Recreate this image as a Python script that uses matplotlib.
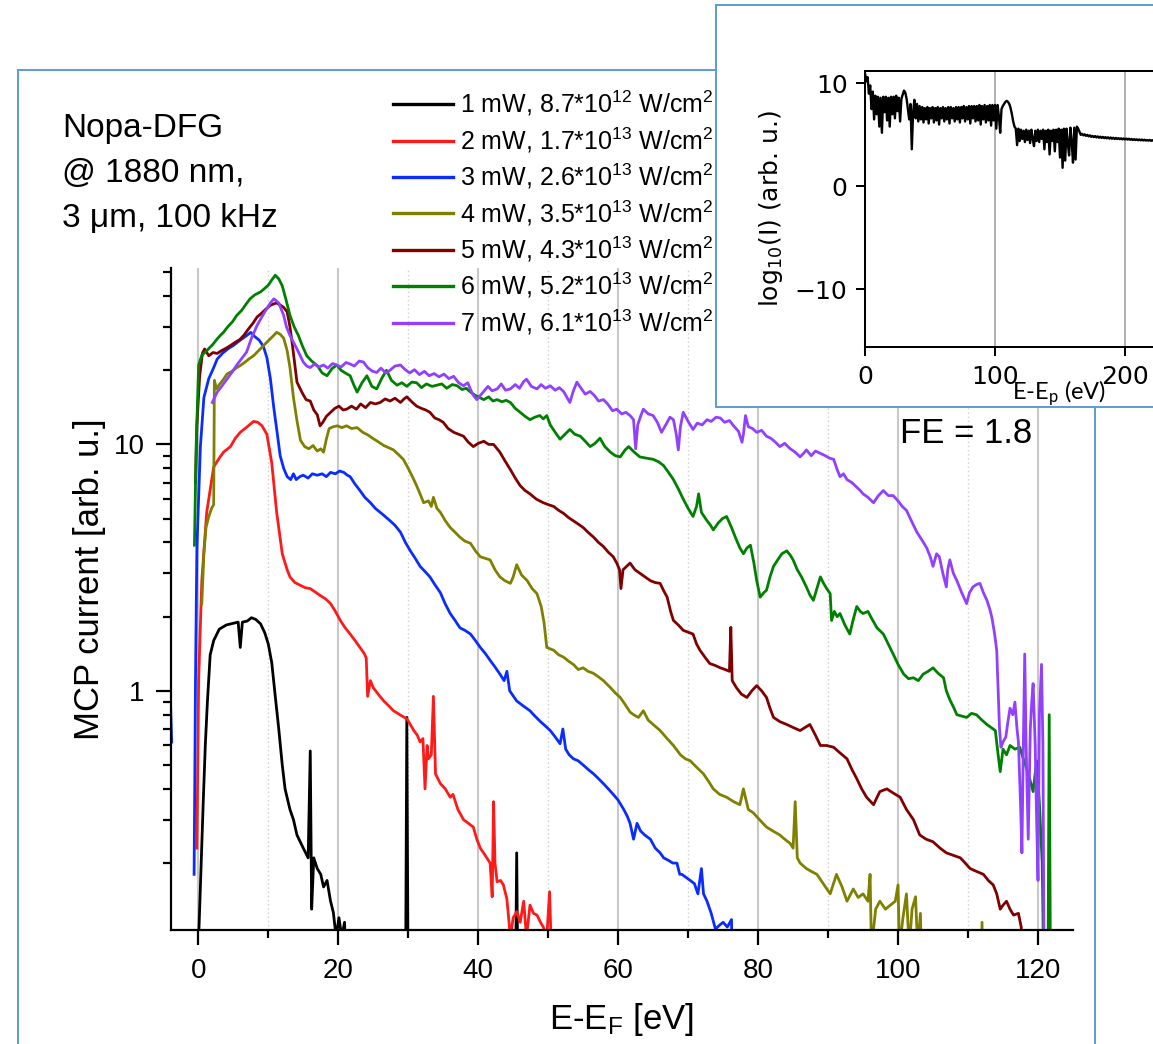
import numpy as np
import matplotlib
matplotlib.use('Agg')
import matplotlib.pyplot as plt
from matplotlib.patches import Rectangle
from matplotlib.ticker import FixedLocator, FixedFormatter, LogLocator, NullFormatter
from matplotlib.lines import Line2D

plt.rcParams['font.family'] = ['Liberation Sans', 'DejaVu Sans']
plt.rcParams['mathtext.default'] = 'regular'

NaN = float('nan')  # marks a gap in a measured trace

# ---------------- data (E - E_F [eV], MCP current [arb. u.]) ----------------
black = [(-0.3, 0.05), (0.0, 0.09), (0.3, 0.16), (0.7, 0.35), (1.0, 0.6), (1.3, 0.9), (1.7, 1.4),
         (2.2, 1.6), (3.0, 1.78), (4.0, 1.85), (5.0, 1.88), (5.7, 1.9), (6.0, 1.5), (6.3, 1.9),
         (7.0, 1.92), (7.6, 1.98), (8.2, 1.95), (8.9, 1.87), (9.5, 1.72), (10.0, 1.55), (10.5, 1.3),
         (11.0, 0.95), (11.5, 0.7), (12.0, 0.5), (12.4, 0.4), (13.1, 0.33), (13.6, 0.3), (14.1, 0.26),
         (15.0, 0.23), (15.7, 0.21), (16.0, 0.57), (16.2, 0.13), (16.5, 0.21), (17.0, 0.19),
         (17.5, 0.18), (17.9, 0.16), (18.4, 0.17), (18.9, 0.14), (19.3, 0.126), (19.7, 0.1),
         (20.1, 0.12), (20.5, 0.1), (20.9, 0.115), (21.3, 0.05), (29.6, 0.05), (29.8, 0.78),
         (30.0, 0.05), (45.3, 0.05), (45.5, 0.22), (45.7, 0.05), (46.2, 0.05)]

red = [(-0.2, 0.23), (0.05, 1.1), (0.5, 2.8), (1.2, 5.3), (2.2, 8.1), (3.0, 8.8),
       (3.6, 9.3), (4.6, 9.8), (5.3, 10.6), (6.0, 11.2), (7.0, 11.8), (7.9, 12.4), (8.5, 12.3),
       (9.1, 11.9), (9.8, 11.0), (10.5, 8.4), (11.2, 5.3), (12.0, 3.6), (12.7, 3.1), (13.1, 2.9),
       (13.8, 2.75), (14.6, 2.68), (15.3, 2.62), (16.0, 2.6), (16.7, 2.52), (17.4, 2.44),
       (18.2, 2.36), (18.9, 2.26), (19.6, 2.1), (20.3, 1.93), (21.0, 1.8), (21.7, 1.7), (22.4, 1.6),
       (23.1, 1.5), (23.7, 1.42), (24.0, 1.36), (24.2, 0.95), (24.6, 1.1), (25.0, 1.03),
       (25.7, 0.97), (26.5, 0.91), (27.2, 0.87), (27.9, 0.83), (28.8, 0.8), (29.8, 0.77),
       (30.3, 0.73), (30.8, 0.69), (31.3, 0.66), (31.7, 0.62), (32.1, 0.64), (32.4, 0.40),
       (32.7, 0.6), (32.9, 0.53), (33.3, 0.55), (33.6, 0.95), (33.9, 0.46), (34.6, 0.42),
       (35.3, 0.40), (36.0, 0.37), (36.4, 0.38), (37.1, 0.33), (37.9, 0.30), (38.6, 0.29),
       (39.3, 0.28), (39.8, 0.25), (40.3, 0.23), (41.0, 0.215), (41.7, 0.2), (42.0, 0.146),
       (42.2, 0.355), (42.4, 0.2), (42.7, 0.168), (43.2, 0.17), (43.6, 0.163), (44.1, 0.143),
       (44.6, 0.1), (45.0, 0.12), (45.5, 0.127), (46.0, 0.115), (46.5, 0.14), (46.9, 0.1),
       (47.4, 0.135), (47.9, 0.125), (48.4, 0.123), (48.9, 0.115), (49.3, 0.11), (49.8, 0.1),
       (50.2, 0.153), (50.4, 0.1), (50.6, 0.05)]

blue = [(-4.0, 0.95), (-3.8, 0.62), (-3.7, NaN), (-0.6, 0.18), (-0.4, 1.1),
        (-0.2, 3.8), (0.3, 9.8), (0.8, 15.5), (1.5, 18.5), (2.2, 20.5), (2.7, 22.2), (3.5, 23.5),
        (4.3, 24.5), (5.0, 25.2), (6.0, 26.5), (6.8, 27.5), (7.5, 28.5), (8.0, 27.5), (8.7, 26.5),
        (9.3, 25.0), (9.8, 22.5), (10.3, 18.5), (10.8, 14.0), (11.3, 11.0), (11.7, 9.0),
        (12.2, 8.0), (12.7, 7.4), (13.2, 7.2), (13.6, 7.6), (14.0, 7.2), (14.5, 7.4), (15.0, 7.5),
        (15.7, 7.3), (16.3, 7.6), (17.0, 7.5), (17.7, 7.6), (18.3, 7.4), (18.9, 7.7), (19.6, 7.6),
        (20.2, 7.8), (20.8, 7.7), (21.3, 7.5), (21.7, 7.4), (22.4, 6.9), (23.1, 6.5), (23.8, 6.1),
        (24.6, 5.8), (25.3, 5.5), (26.0, 5.3), (26.7, 5.1), (27.4, 4.9), (28.1, 4.7), (28.9, 4.4),
        (29.6, 4.0), (30.3, 3.7), (31.0, 3.45), (31.7, 3.2), (32.4, 3.05), (33.1, 2.9), (33.8, 2.7),
        (34.6, 2.5), (35.3, 2.25), (36.0, 2.06), (36.7, 1.93), (37.4, 1.8), (38.1, 1.76),
        (38.9, 1.7), (39.6, 1.6), (40.3, 1.5), (41.0, 1.42), (41.7, 1.33), (42.4, 1.25),
        (43.1, 1.17), (43.7, 1.1), (44.1, 1.2), (44.5, 1.0), (45.5, 0.91), (46.4, 0.87),
        (47.4, 0.83), (48.1, 0.79), (48.9, 0.75), (49.6, 0.72), (50.3, 0.69), (51.0, 0.65),
        (51.7, 0.61), (52.1, 0.70), (52.5, 0.58), (53.0, 0.55), (53.6, 0.53), (54.3, 0.52),
        (55.0, 0.5), (55.7, 0.48), (56.5, 0.46), (57.2, 0.44), (57.9, 0.42), (58.6, 0.40),
        (59.3, 0.38), (60.0, 0.36), (60.8, 0.33), (61.3, 0.31), (61.7, 0.29), (62.2, 0.25),
        (62.7, 0.29), (63.2, 0.27), (63.8, 0.26), (64.6, 0.25), (65.3, 0.23), (66.0, 0.22),
        (66.5, 0.21), (67.2, 0.205), (67.8, 0.2), (68.4, 0.2), (68.8, 0.18), (69.1, 0.18),
        (69.7, 0.175), (70.3, 0.17), (70.9, 0.165), (71.4, 0.15), (71.9, 0.19), (72.2, 0.15),
        (72.7, 0.14), (73.3, 0.125), (73.9, 0.108), (74.5, 0.112), (75.0, 0.115), (75.6, 0.11),
        (76.2, 0.118), (76.4, 0.05)]

olive = [(0.5, 2.25), (0.8, 3.6), (1.1, 4.6), (1.5, 5.1), (1.9, 5.5),
         (2.2, 5.7), (2.3, 18.2), (2.6, 16.8), (3.0, 17.5), (3.5, 18.2), (4.1, 19.3), (4.8, 19.8),
         (5.4, 20.4), (6.0, 20.9), (6.7, 21.6), (7.3, 22.3), (7.9, 22.9), (8.6, 24.0), (9.2, 25.0),
         (9.8, 26.0), (10.5, 27.2), (11.2, 28.5), (11.7, 28.0), (12.2, 27.0), (12.7, 24.0),
         (13.1, 20.5), (13.6, 15.5), (14.1, 12.5), (14.6, 10.4), (15.2, 9.8), (15.8, 9.6),
         (16.4, 9.9), (17.0, 9.4), (17.5, 9.6), (17.9, 9.3), (18.3, 10.5), (18.7, 11.6),
         (19.3, 11.8), (19.9, 11.9), (20.5, 11.7), (21.2, 11.9), (21.9, 11.6), (22.7, 11.7),
         (23.5, 11.2), (24.3, 10.9), (24.9, 10.6), (25.6, 10.3), (26.5, 9.9), (27.2, 9.7),
         (27.9, 9.5), (28.6, 9.1), (29.3, 8.7), (30.0, 8.0), (30.8, 7.2), (31.5, 6.5), (32.2, 5.8),
         (32.9, 5.9), (33.3, 5.6), (33.6, 6.1), (34.1, 5.5), (34.6, 5.3), (35.3, 4.9), (36.0, 4.6),
         (36.7, 4.4), (37.4, 4.2), (38.1, 4.05), (38.9, 3.97), (39.6, 3.7), (40.3, 3.5),
         (41.0, 3.45), (41.7, 3.4), (42.4, 3.1), (43.1, 2.9), (43.8, 2.8), (44.6, 2.73),
         (45.0, 2.9), (45.5, 3.25), (46.2, 2.95), (47.0, 2.8), (47.7, 2.6), (48.4, 2.48),
         (49.0, 2.2), (49.4, 1.9), (49.8, 1.5), (50.3, 1.48), (50.8, 1.46), (51.5, 1.4),
         (52.2, 1.37), (52.9, 1.32), (53.6, 1.28), (54.3, 1.22), (55.0, 1.24), (55.7, 1.2),
         (56.4, 1.18), (57.0, 1.15), (57.9, 1.1), (58.9, 1.03), (59.6, 0.98), (60.3, 0.94),
         (61.0, 0.88), (61.7, 0.82), (62.2, 0.8), (62.9, 0.78), (63.6, 0.83), (64.3, 0.76),
         (65.0, 0.73), (66.0, 0.69), (67.0, 0.64), (67.9, 0.6), (68.9, 0.55), (69.6, 0.53),
         (70.3, 0.52), (71.2, 0.49), (72.2, 0.46), (72.9, 0.43), (73.6, 0.40), (74.5, 0.38),
         (75.5, 0.37), (76.5, 0.355), (77.4, 0.345), (77.9, 0.40), (78.6, 0.33), (79.3, 0.32),
         (80.2, 0.3), (81.2, 0.28), (82.1, 0.27), (83.1, 0.26), (83.8, 0.25), (84.6, 0.24),
         (85.0, 0.23), (85.3, 0.355), (85.6, 0.21), (86.0, 0.2), (86.9, 0.19), (87.6, 0.185),
         (88.4, 0.18), (89.3, 0.165), (90.3, 0.15), (91.2, 0.18), (92.0, 0.16), (92.7, 0.14),
         (93.6, 0.157), (94.3, 0.145), (95.0, 0.15), (95.7, 0.14), (96.0, 0.18), (96.2, 0.09),
         (96.8, 0.13), (97.4, 0.14), (98.2, 0.13), (98.9, 0.135), (99.6, 0.14), (100.0, 0.163),
         (100.2, 0.09), (100.7, 0.12), (101.2, 0.15), (101.6, 0.09), (102.0, 0.13), (102.5, 0.146),
         (102.8, 0.09), (103.2, 0.125), (103.5, 0.05), (111.8, 0.05), (112.0, 0.115), (112.2, 0.05)]

darkred = [(-0.4, 7.0), (-0.2, 12.0), (0.2, 19.0), (0.6, 23.5), (0.9, 24.4), (1.5, 22.9), (2.1, 23.6),
           (2.7, 23.4), (3.3, 24.0), (4.0, 24.6), (4.6, 25.2), (5.3, 26.0), (5.9, 26.6), (6.5, 27.7),
           (7.2, 29.5), (7.8, 31.0), (8.4, 32.9), (9.0, 34.0), (9.7, 35.5), (10.3, 36.7), (10.8, 37.2),
           (11.2, 37.5), (11.7, 36.8), (12.2, 36.0), (12.7, 34.5), (13.1, 30.0), (13.4, 26.0),
           (13.8, 21.0), (14.1, 17.9), (14.8, 16.3), (15.4, 15.2), (16.0, 15.0), (16.5, 13.8),
           (17.0, 13.2), (17.4, 11.9), (17.8, 12.3), (18.3, 13.0), (18.9, 13.5), (19.5, 14.0),
           (20.1, 14.3), (20.7, 13.8), (21.2, 13.9), (21.9, 14.3), (22.6, 13.9), (23.2, 14.6),
           (23.9, 14.1), (24.6, 14.8), (25.3, 14.6), (26.0, 14.8), (26.7, 15.3), (27.4, 15.0),
           (28.1, 15.4), (28.9, 14.8), (29.4, 15.3), (29.8, 15.6), (30.5, 14.9), (31.2, 14.3),
           (31.9, 14.0), (32.5, 13.8), (33.1, 13.5), (33.8, 12.8), (34.4, 12.6), (35.0, 12.3),
           (35.7, 11.6), (36.5, 11.2), (37.2, 11.0), (37.9, 10.8), (38.6, 10.2), (39.3, 9.8),
           (40.0, 10.1), (40.8, 10.3), (41.5, 10.0), (42.2, 10.0), (42.7, 9.6), (43.1, 9.3),
           (43.8, 8.6), (44.6, 7.9), (45.3, 7.3), (46.0, 6.8), (46.7, 6.5), (47.4, 6.3),
           (48.3, 6.0), (49.3, 5.8), (50.0, 5.7), (50.8, 5.6), (51.5, 5.4), (52.2, 5.25),
           (52.9, 5.05), (53.6, 4.9), (54.3, 4.75), (55.0, 4.6), (55.7, 4.4), (56.5, 4.2),
           (57.2, 4.0), (57.9, 3.85), (58.6, 3.65), (59.3, 3.5), (59.8, 3.3), (60.2, 3.1),
           (60.4, 2.6), (60.7, 3.1), (61.2, 3.2), (61.7, 3.3), (62.4, 3.1), (63.1, 3.0),
           (63.8, 2.9), (64.6, 2.8), (65.3, 2.75), (66.0, 2.73), (66.5, 2.55), (67.0, 2.4),
           (67.5, 2.1), (67.9, 1.93), (68.6, 1.85), (69.3, 1.76), (70.0, 1.73), (70.7, 1.7),
           (71.2, 1.55), (71.7, 1.46), (72.4, 1.37), (73.1, 1.29), (73.8, 1.27), (74.6, 1.24),
           (75.3, 1.22), (75.9, 1.2), (76.1, 1.81), (76.3, 1.1), (76.9, 1.03), (77.6, 0.97),
           (78.4, 0.94), (79.1, 1.0), (79.8, 1.05), (80.5, 1.0), (81.2, 0.94), (81.7, 0.85),
           (82.2, 0.78), (83.1, 0.75), (84.1, 0.73), (85.0, 0.71), (86.0, 0.69), (86.7, 0.71),
           (87.4, 0.73), (88.2, 0.66), (88.9, 0.6), (89.8, 0.6), (90.8, 0.59), (91.7, 0.56),
           (92.7, 0.53), (93.4, 0.48), (94.1, 0.44), (94.8, 0.4), (95.5, 0.37), (96.5, 0.345),
           (97.0, 0.37), (97.4, 0.39), (98.4, 0.40), (99.3, 0.385), (100.3, 0.37), (101.2, 0.33),
           (102.2, 0.30), (103.1, 0.26), (104.0, 0.25), (105.0, 0.244), (106.0, 0.23),
           (106.9, 0.22), (107.9, 0.215), (108.9, 0.21), (109.6, 0.2), (110.3, 0.19),
           (111.2, 0.185), (112.2, 0.18), (112.9, 0.17), (113.6, 0.163), (114.1, 0.15),
           (114.6, 0.13), (115.0, 0.135), (115.5, 0.14), (116.0, 0.13), (116.5, 0.123),
           (117.2, 0.125), (117.6, 0.11), (117.9, 0.05)]

green = [(-0.55, 3.9), (-0.3, 10.0), (0.05, 21.0), (0.5, 23.0), (1.0, 23.7), (1.5, 24.5),
         (2.1, 25.5), (2.7, 26.8), (3.2, 27.8), (3.6, 28.5), (4.2, 30.0), (4.9, 31.5), (5.5, 33.4),
         (6.2, 35.0), (6.8, 37.0), (7.4, 39.0), (8.1, 40.5), (8.9, 41.6), (9.5, 43.0), (10.0, 44.3),
         (10.5, 46.5), (11.0, 48.6), (11.5, 47.0), (12.0, 44.0), (12.5, 39.0), (13.1, 33.4),
         (13.7, 30.0), (14.3, 27.7), (14.9, 25.0), (15.5, 22.9), (16.2, 21.8), (17.0, 20.9),
         (17.7, 19.5), (18.4, 19.0), (19.1, 20.3), (19.8, 21.0), (20.4, 20.0), (21.0, 19.5),
         (21.7, 19.0), (22.2, 17.5), (22.7, 16.3), (23.4, 17.8), (24.1, 19.0), (24.8, 17.2),
         (25.5, 16.8), (26.2, 18.5), (26.9, 20.0), (27.6, 18.2), (28.4, 17.4), (29.1, 17.8),
         (29.8, 17.2), (30.5, 17.9), (31.2, 17.8), (31.9, 17.0), (32.6, 17.6), (33.4, 17.2),
         (34.1, 17.4), (34.8, 17.6), (35.5, 16.9), (36.3, 17.5), (37.0, 17.3), (37.7, 16.7),
         (38.3, 16.9), (38.9, 16.3), (39.6, 15.8), (40.2, 15.5), (40.8, 15.2), (41.5, 15.6),
         (42.1, 15.0), (42.7, 15.2), (43.4, 14.9), (44.0, 15.1), (44.6, 14.8), (45.3, 14.0),
         (46.0, 13.5), (46.7, 13.0), (47.4, 12.6), (48.1, 12.9), (48.8, 13.1), (49.3, 12.7),
         (49.8, 13.1), (50.3, 12.0), (51.0, 11.2), (51.7, 10.5), (52.4, 11.0), (53.1, 11.5),
         (53.8, 11.0), (54.6, 10.8), (55.3, 10.3), (56.0, 9.8), (56.7, 10.1), (57.4, 10.6),
         (58.1, 9.8), (58.9, 9.3), (59.6, 9.0), (60.3, 8.9), (61.0, 9.5), (61.5, 9.8), (62.3, 9.3),
         (63.1, 8.9), (64.0, 8.8), (65.0, 8.7), (65.8, 8.5), (66.5, 8.2), (67.2, 7.7), (67.9, 7.2),
         (68.6, 6.6), (69.3, 6.0), (70.0, 5.5), (70.7, 5.1), (71.2, 5.6), (71.5, 6.3), (71.9, 5.3),
         (72.7, 4.9), (73.2, 4.7), (73.6, 4.5), (74.3, 4.8), (74.9, 5.0), (75.5, 5.1), (76.2, 4.6),
         (76.9, 4.1), (77.4, 3.8), (77.9, 3.6), (78.4, 3.8), (78.9, 3.9), (79.4, 3.3), (79.8, 2.8),
         (80.3, 2.4), (80.8, 2.5), (81.2, 2.56), (81.7, 2.9), (82.2, 3.2), (82.8, 3.4), (83.4, 3.6),
         (84.1, 3.7), (84.6, 3.55), (85.0, 3.4), (85.6, 3.1), (86.2, 2.9), (86.9, 2.64),
         (87.4, 2.45), (87.9, 2.33), (88.4, 2.6), (88.9, 2.9), (89.3, 2.75), (89.8, 2.6),
         (90.3, 2.48), (90.5, 1.93), (90.9, 2.1), (91.3, 2.0), (91.7, 2.06), (92.4, 1.85),
         (93.1, 1.7), (93.6, 1.95), (94.1, 2.2), (94.6, 2.1), (95.0, 2.06), (95.7, 2.1),
         (96.3, 1.95), (97.0, 1.8), (97.9, 1.7), (98.6, 1.55), (99.3, 1.41), (100.0, 1.28),
         (100.8, 1.17), (101.5, 1.12), (102.2, 1.13), (102.9, 1.1), (103.6, 1.17), (104.3, 1.2),
         (105.0, 1.24), (105.7, 1.18), (106.5, 1.13), (106.9, 1.0), (107.4, 0.92), (108.0, 0.85),
         (108.4, 0.8), (109.1, 0.79), (109.8, 0.78), (110.5, 0.81), (111.2, 0.8), (112.0, 0.76),
         (112.7, 0.73), (113.3, 0.71), (113.9, 0.69), (114.3, 0.55), (114.6, 0.47), (115.0, 0.58),
         (115.5, 0.55), (116.0, 0.6), (116.7, 0.58), (117.4, 0.59), (117.8, 0.54), (118.2, 0.5),
         (118.8, 0.44), (119.3, 0.39), (119.8, 0.52), (120.2, 0.35), (120.6, 0.2), (120.9, 0.05),
         (121.4, 0.05), (121.6, 0.8), (121.8, 0.05)]

purple = [(2.0, 14.8), (2.7, 16.3), (3.4, 17.3), (4.1, 18.4), (4.8, 19.6), (5.5, 21.0),
          (6.2, 22.3), (6.9, 23.7), (7.6, 27.0), (8.4, 30.4), (9.1, 33.0), (9.8, 35.6), (10.3, 37.5),
          (10.8, 39.0), (11.5, 37.5), (12.2, 33.4), (12.6, 30.0), (13.1, 27.7), (13.6, 26.0),
          (14.1, 24.4), (14.6, 22.8), (15.0, 21.6), (15.5, 20.8), (16.0, 20.5), (16.6, 21.2),
          (17.2, 20.6), (17.9, 21.0), (18.5, 20.4), (19.2, 21.3), (19.8, 21.0), (20.4, 20.6),
          (21.1, 21.5), (21.7, 21.2), (22.3, 20.8), (23.0, 21.8), (23.6, 21.6), (24.2, 20.5),
          (24.9, 19.8), (25.5, 19.6), (26.1, 20.4), (26.8, 19.5), (27.4, 20.0), (28.1, 20.8),
          (28.9, 21.0), (29.5, 20.2), (30.2, 19.5), (30.9, 20.1), (31.6, 19.2), (32.3, 19.8),
          (33.0, 19.0), (33.7, 19.4), (34.4, 18.8), (35.1, 19.3), (35.8, 18.5), (36.5, 18.9),
          (37.2, 17.8), (37.9, 17.3), (38.5, 17.8), (39.2, 16.0), (39.8, 15.2), (40.3, 15.8),
          (40.8, 16.4), (41.4, 17.2), (42.0, 16.5), (42.7, 16.8), (43.3, 17.6), (43.9, 16.6),
          (44.6, 16.8), (45.3, 17.5), (45.9, 16.9), (46.5, 18.0), (46.9, 18.4), (47.6, 17.2),
          (48.4, 16.8), (49.0, 17.5), (49.6, 16.9), (50.3, 17.3), (51.0, 16.6), (51.6, 17.0),
          (52.2, 16.4), (52.7, 15.5), (53.1, 14.8), (53.6, 16.5), (54.1, 17.9), (54.7, 16.9),
          (55.3, 16.0), (56.0, 16.4), (56.6, 15.8), (57.2, 15.0), (57.9, 15.2), (58.5, 14.6),
          (59.2, 13.7), (59.8, 13.9), (60.5, 13.3), (61.1, 13.5), (61.7, 13.1), (62.2, 12.6),
          (62.5, 9.6), (62.8, 12.0), (63.2, 13.0), (63.6, 13.9), (64.3, 13.3), (65.0, 13.1),
          (65.6, 12.3), (66.2, 11.2), (66.8, 12.0), (67.4, 12.9), (67.9, 12.6), (68.3, 11.0),
          (68.6, 9.5), (68.9, 11.8), (69.3, 13.5), (70.0, 12.4), (70.7, 11.5), (71.3, 12.2),
          (72.0, 12.0), (72.7, 12.6), (73.3, 12.4), (74.0, 12.9), (74.6, 12.8), (75.2, 12.3),
          (75.9, 12.5), (76.5, 11.9), (77.2, 11.3), (77.7, 10.2), (77.9, 11.0), (78.2, 13.1),
          (78.6, 11.8), (79.2, 11.6), (79.8, 11.2), (80.5, 11.4), (81.2, 10.8), (81.8, 10.6),
          (82.5, 10.2), (83.1, 9.8), (83.8, 10.1), (84.6, 9.6), (85.3, 9.3), (86.0, 8.9),
          (86.5, 9.2), (86.9, 9.5), (87.6, 9.0), (88.2, 9.4), (88.9, 9.2), (89.6, 9.0), (90.2, 8.8),
          (90.8, 8.7), (91.3, 7.9), (91.7, 7.4), (92.2, 7.6), (92.7, 7.2), (93.4, 7.0), (94.1, 6.7),
          (94.6, 6.5), (95.0, 6.3), (95.7, 6.1), (96.5, 5.8), (97.2, 6.2), (97.9, 6.5), (98.6, 6.2),
          (99.3, 6.2), (100.0, 5.9), (100.6, 5.6), (101.2, 5.4), (101.9, 4.9), (102.7, 4.4),
          (103.4, 4.1), (104.1, 3.8), (104.6, 3.5), (105.0, 3.2), (105.5, 3.6), (105.9, 3.5),
          (106.4, 3.0), (106.9, 2.64), (107.1, 3.1), (107.4, 3.4), (107.9, 3.0), (108.4, 2.8),
          (109.1, 2.5), (109.8, 2.26), (110.2, 2.5), (110.7, 2.64), (111.2, 2.7), (111.7, 2.73),
          (112.2, 2.5), (112.7, 2.33), (113.1, 2.15), (113.4, 1.99), (113.8, 1.7), (114.1, 1.46),
          (114.3, 1.0), (114.5, 0.7), (114.7, 0.59), (115.0, 0.62), (115.4, 0.65), (115.7, 0.75),
          (116.0, 0.85), (116.4, 0.8), (116.7, 0.9), (117.0, 0.7), (117.2, 0.62), (117.5, 0.35),
          (117.7, 0.22), (117.9, 0.6), (118.1, 1.41), (118.3, 0.6), (118.6, 0.25), (118.9, 0.7),
          (119.1, 0.9), (119.3, 1.07), (119.6, 0.6), (119.8, 0.3), (120.0, 0.17), (120.2, 0.8),
          (120.5, 1.28), (120.7, 0.6), (120.9, 0.05)]

series_labels = ['1 mW, 8.7*10$^{12}$ W/cm$^{2}$,', '2 mW, 1.7*10$^{13}$ W/cm$^{2}$,',
                 '3 mW, 2.6*10$^{13}$ W/cm$^{2}$,', '4 mW, 3.5*10$^{13}$ W/cm$^{2}$,',
                 '5 mW, 4.3*10$^{13}$ W/cm$^{2}$,', '6 mW, 5.2*10$^{13}$ W/cm$^{2}$,',
                 '7 mW, 6.1*10$^{13}$ W/cm$^{2}$,']
series_colors = ['#000000', '#ff1a1a', '#0a2cff', '#808000', '#800000', '#008000', '#9140ff']
series_data = [black, red, blue, olive, darkred, green, purple]

x_major = [0, 20, 40, 60, 80, 100, 120]
x_minor = [10, 30, 50, 70, 90, 110]
y_major = [1, 10]
y_major_labels = ['1', '10']

# inset: log10 intensity vs E-E_p, 1 eV steps starting at 0 eV
inset_vals = [11.0, 10.2, 10.6, 9.0, 9.8, 7.5, 9.2, 6.5, 8.8, 7.0,
              8.7, 5.8, 8.6, 5.2, 8.7, 7.2, 8.7, 6.4, 8.6, 5.8,
              8.7, 7.0, 8.7, 6.6, 8.8, 7.3, 8.6, 6.3, 8.5, 8.9,
              9.3, 9.1, 8.5, 7.5, 6.5, 8.0, 3.6, 7.2, 8.4, 6.6,
              8.0, 6.3, 7.8, 6.5, 7.7, 6.2, 7.6, 6.5, 7.7, 6.1,
              7.6, 6.6, 7.7, 6.2, 7.6, 6.4, 7.7, 6.0, 7.6, 6.6,
              7.7, 6.3, 7.6, 6.5, 7.7, 6.1, 7.7, 6.6, 7.6, 6.3,
              7.7, 6.5, 7.7, 6.2, 7.7, 6.6, 7.8, 6.3, 7.7, 6.5,
              7.8, 6.1, 7.8, 6.6, 7.8, 6.3, 7.8, 6.4, 7.9, 6.0,
              7.8, 6.5, 7.9, 6.2, 7.8, 6.4, 7.9, 5.9, 7.9, 6.4,
              7.9, 5.6, 7.9, 6.8, 5.2, 7.5, 7.8, 8.0, 8.2, 8.3,
              8.2, 8.0, 7.6, 7.0, 6.3, 5.8, 5.6, 4.0, 5.6, 4.4,
              5.5, 4.6, 5.4, 4.3, 5.5, 4.5, 5.4, 4.2, 5.5, 4.6,
              3.9, 5.4, 4.4, 5.5, 4.3, 5.4, 4.6, 5.5, 3.6, 5.4,
              4.3, 5.5, 3.1, 5.4, 4.4, 5.5, 3.4, 5.5, 4.3, 5.6,
              2.8, 5.5, 1.8, 5.6, 2.5, 5.6, 4.2, 3.0, 5.7, 4.3,
              2.3, 5.7, 2.6, 5.8, 5.6, 5.3, 5.0, 5.1, 4.95, 5.05,
              4.9, 5.0, 4.85, 4.95, 4.8, 4.9, 4.78, 4.88, 4.75, 4.85,
              4.72, 4.82, 4.7, 4.8, 4.68, 4.78, 4.66, 4.76, 4.64, 4.74,
              4.62, 4.72, 4.6, 4.7, 4.6, 4.68, 4.58, 4.66, 4.56, 4.65,
              4.55, 4.64, 4.54, 4.62, 4.52, 4.6, 4.5, 4.58, 4.5, 4.56,
              4.48, 4.55, 4.47, 4.54, 4.46, 4.52, 4.45, 4.5, 4.44, 4.5,
              4.42, 4.48, 4.41, 4.47, 4.4, 4.46, 4.4, 4.45, 4.38, 4.44]
inset_e = np.arange(len(inset_vals))

# ---------------- figure ----------------
W, H = 1153, 1044
fig = plt.figure(figsize=(W / 100, H / 100), dpi=100)


def fx(px):
    return px / W


def fy(py):
    return 1 - py / H


BOX = '#5b9bd5'

# main axes
ax = fig.add_axes([fx(171), fy(930), fx(1073) - fx(171), fy(268) - fy(930)])
ax.set_zorder(0)
for data, col in zip(series_data, series_colors):
    e, i = zip(*data)
    ax.plot(e, i, color=col, lw=2.0)
ax.set_yscale('log')
ax.set_xlim(-3.9, 125)
ax.set_ylim(0.107, 52)
for s in ['top', 'right']:
    ax.spines[s].set_visible(False)
for s in ['left', 'bottom']:
    ax.spines[s].set_linewidth(1.6)
ax.xaxis.set_major_locator(FixedLocator(x_major))
ax.xaxis.set_minor_locator(FixedLocator(x_minor))
ax.yaxis.set_major_locator(FixedLocator(y_major))
ax.yaxis.set_major_formatter(FixedFormatter(y_major_labels))
ax.yaxis.set_minor_locator(LogLocator(base=10, subs=np.arange(2, 10), numticks=20))
ax.yaxis.set_minor_formatter(NullFormatter())
ax.tick_params(which='major', direction='out', length=11, width=1.6, labelsize=20)
ax.tick_params(which='minor', direction='out', length=6, width=1.6)
ax.tick_params(axis='x', pad=9)
ax.tick_params(axis='y', pad=8)
ax.grid(axis='x', which='major', color='#c8c8c8', lw=1.5)
ax.grid(axis='x', which='minor', color='#d0d0d0', lw=1.0, ls=(0, (1, 2)))
ax.grid(axis='y', which='both', visible=False)
ax.set_axisbelow(True)
ax.set_xlabel('E-E$_F$ [eV]', fontsize=25)
ax.xaxis.set_label_coords(0.5, -0.108)
ax.set_ylabel('MCP current [arb. u.]', fontsize=25)
ax.yaxis.set_label_coords(-0.072, 0.53)

handles = [Line2D([], [], color=c, lw=2.4) for c in series_colors]
ax.legend(handles, series_labels, loc='upper left', bbox_to_anchor=(fx(393), fy(89)),
          bbox_transform=fig.transFigure, frameon=False, fontsize=18, handlelength=2.4,
          handletextpad=0.3, labelspacing=0.28, borderpad=0, borderaxespad=0)

ax.text(fx(900), fy(443), 'FE = 1.8', transform=fig.transFigure, fontsize=25, va='baseline')
fig.text(fx(62), fy(137), 'Nopa-DFG', fontsize=24, va='baseline')
fig.text(fx(62), fy(182), '@ 1880 nm,', fontsize=24, va='baseline')
fig.text(fx(62), fy(227), '3 μm, 100 kHz', fontsize=24, va='baseline')

# blue frames
fig.patches.append(Rectangle((fx(18), -0.05), fx(1095) - fx(18), fy(70) + 0.05,
                             transform=fig.transFigure, fill=False, edgecolor=BOX, lw=1.4, zorder=1))
fig.patches.append(Rectangle((fx(716), fy(407)), 0.5, fy(5) - fy(407),
                             transform=fig.transFigure, facecolor='white', edgecolor=BOX,
                             lw=1.4, zorder=2))

# inset axes
axi = fig.add_axes([fx(865), fy(347), 400 / W, fy(71) - fy(347)])
axi.set_zorder(5)
axi.plot(inset_e, inset_vals, color='black', lw=1.7)
axi.set_xlim(0, 307.7)
axi.set_ylim(-15.6, 11.2)
axi.set_xticks([0, 100, 200, 300])
axi.set_yticks([-10, 0, 10])
axi.grid(axis='x', color='#b0b0b0', lw=1.4)
axi.set_axisbelow(True)
for s in axi.spines.values():
    s.set_linewidth(1.45)
axi.tick_params(labelsize=18, labelfontfamily='DejaVu Sans', length=6.3, width=1.45, pad=6.3)
axi.set_ylabel('log$_{10}$(I) (arb. u.)', fontsize=18, fontfamily='DejaVu Sans', labelpad=7)
fig.text(fx(1059), fy(399), 'E-E$_p$ (eV)', fontsize=17, ha='center', va='baseline',
         fontfamily=['Lato', 'DejaVu Sans'], zorder=10)

fig.savefig('out.png', dpi=100)
